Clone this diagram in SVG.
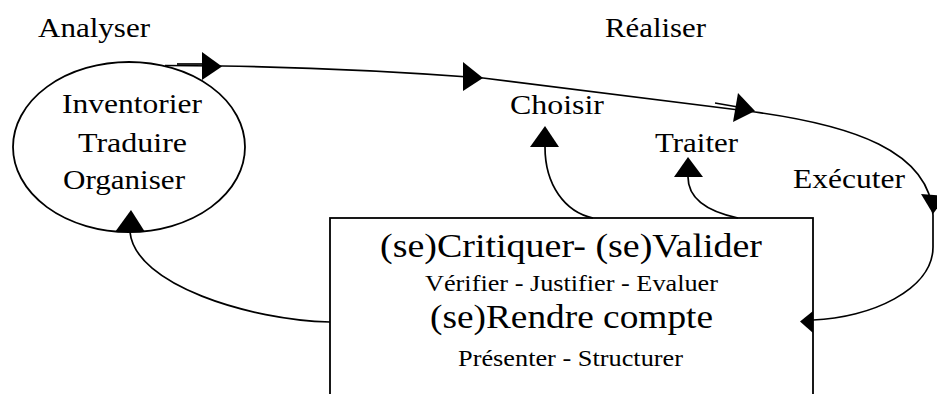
<svg xmlns="http://www.w3.org/2000/svg" width="937" height="394" viewBox="0 0 937 394">
  <style>
    text { font-family: 'Liberation Serif', 'Times New Roman', Times, serif; fill: #000; }
    .big { font-size: 28px; }
    .head { font-size: 33.5px; }
    .sub { font-size: 23.5px; }
    .shape { fill: #fff; stroke: #000; stroke-width: 1.8; }
    .wire { fill: none; stroke: #000; stroke-width: 1.7; }
    .tip { fill: #000; stroke: none; }
  </style>
  <rect width="937" height="394" fill="#fff"/>

  <!-- phase titles (type is set slightly wide, so each run has a fixed length) -->
  <g id="title-analyser">
    <text class="big" x="38" y="37" textLength="112" lengthAdjust="spacingAndGlyphs">Analyser</text>
  </g>
  <g id="title-realiser">
    <text class="big" x="605" y="37" textLength="101" lengthAdjust="spacingAndGlyphs">Réaliser</text>
  </g>

  <!-- analysis ellipse -->
  <g id="node-analyse">
    <ellipse class="shape" cx="129" cy="147" rx="116" ry="85"/>
    <text class="big" x="62" y="113" textLength="140" lengthAdjust="spacingAndGlyphs">Inventorier</text>
    <text class="big" x="78" y="152" textLength="109" lengthAdjust="spacingAndGlyphs">Traduire</text>
    <text class="big" x="63" y="189" textLength="122" lengthAdjust="spacingAndGlyphs">Organiser</text>
  </g>

  <!-- realisation steps -->
  <g id="node-choisir">
    <text class="big" x="510" y="114" textLength="94" lengthAdjust="spacingAndGlyphs">Choisir</text>
  </g>
  <g id="node-traiter">
    <text class="big" x="655" y="152" textLength="83" lengthAdjust="spacingAndGlyphs">Traiter</text>
  </g>
  <g id="node-executer">
    <text class="big" x="793" y="188" textLength="112" lengthAdjust="spacingAndGlyphs">Exécuter</text>
  </g>

  <!-- control box -->
  <g id="node-controle">
    <rect class="shape" x="330" y="218" width="483" height="200"/>
    <text class="head" x="380" y="257" textLength="382" lengthAdjust="spacingAndGlyphs">(se)Critiquer- (se)Valider</text>
    <text class="sub" x="425" y="291" textLength="293" lengthAdjust="spacingAndGlyphs">Vérifier - Justifier - Evaluer</text>
    <text class="head" x="430" y="328" textLength="283" lengthAdjust="spacingAndGlyphs">(se)Rendre compte</text>
    <text class="sub" x="458" y="366" textLength="225" lengthAdjust="spacingAndGlyphs">Présenter - Structurer</text>
  </g>

  <!-- connectors -->
  <g id="connectors">
    <!-- main loop: ellipse -> Choisir -> Traiter -> Exécuter -> box -->
    <path class="wire" d="M165,65.5 L222,66 Q350,68 483,78 L755,112 C850,125 930,150 933,215 L933,247 C933,290 870,318 813,320"/>
    <line class="wire" x1="177" y1="64" x2="202" y2="64" stroke-width="2.4"/>
    <line class="wire" x1="715" y1="103" x2="738" y2="107"/>
    <polygon class="tip" points="202,52 222,66.5 202,80"/>
    <polygon class="tip" points="463,62 483,78 463,91"/>
    <polygon class="tip" points="738,93 755,111 733,122"/>
    <polygon class="tip" points="921,194 946,196 933,214"/>
    <polygon class="tip" points="813,311 800,321.5 813,333"/>

    <!-- feedback from the box -->
    <path class="wire" d="M593,218 C565,212 545,185 545,147"/>
    <polygon class="tip" points="545,126 559,147 530,147"/>
    <path class="wire" d="M738,218 C710,212 688,200 688,177"/>
    <polygon class="tip" points="688,157 703,177 674,177"/>
    <path class="wire" d="M330,322 C250,320 135,285 130,232"/>
    <polygon class="tip" points="131,210 145,232 115,232"/>
  </g>
</svg>
